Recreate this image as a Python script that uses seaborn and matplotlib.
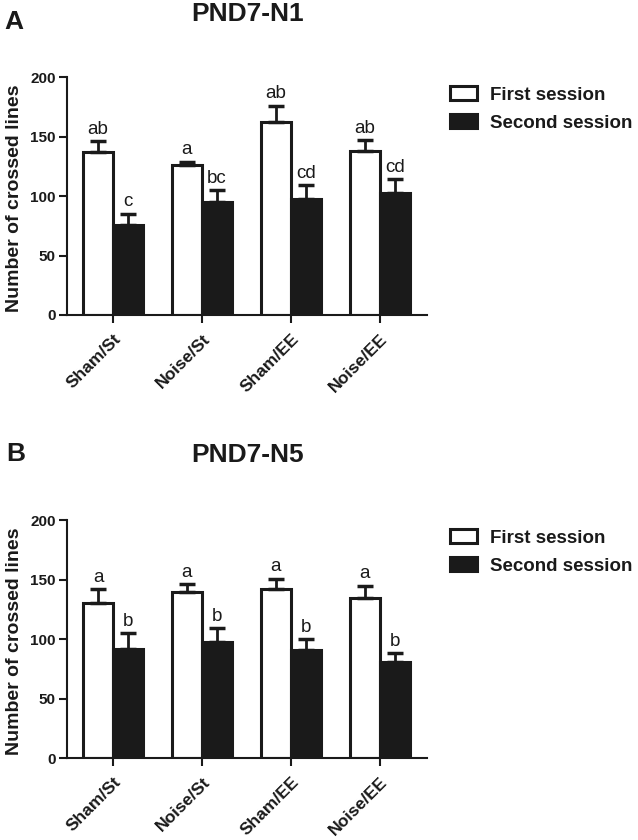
import matplotlib
matplotlib.use("Agg")
import matplotlib.pyplot as plt
import seaborn as sns
import pandas as pd

groups = ["Sham/St", "Noise/St", "Sham/EE", "Noise/EE"]
sessions = ["First session", "Second session"]

n1_first = [137, 126, 162, 138]
n1_first_err = [9, 3, 14, 9]
n1_second = [76, 95, 98, 103]
n1_second_err = [9, 10, 11, 11]
n1_first_letters = ["ab", "a", "ab", "ab"]
n1_second_letters = ["c", "bc", "cd", "cd"]

n5_first = [130, 140, 142, 135]
n5_first_err = [12, 6, 9, 10]
n5_second = [92, 98, 91, 81]
n5_second_err = [13, 11, 9, 7]
n5_first_letters = ["a", "a", "a", "a"]
n5_second_letters = ["b", "b", "b", "b"]

sns.set_theme(style="ticks")
plt.rcParams["font.family"] = ["Liberation Sans", "DejaVu Sans"]

INK = "#1a1a1a"

fig = plt.figure(figsize=(6.38, 8.4), dpi=100)
ax1 = fig.add_axes([0.105, 0.625, 0.564, 0.283])
ax2 = fig.add_axes([0.105, 0.0976, 0.564, 0.283])


def panel(ax, first, first_err, second, second_err, fl, sl, title, ytitle):
    df = pd.DataFrame({
        "group": groups * 2,
        "session": [sessions[0]] * 4 + [sessions[1]] * 4,
        "value": list(first) + list(second),
    })
    sns.barplot(data=df, x="group", y="value", hue="session", order=groups,
                hue_order=sessions, palette=["white", INK], edgecolor=INK,
                linewidth=2.2, width=0.68, errorbar=None, ax=ax, saturation=1)
    errs = [first_err, second_err]
    letters = [fl, sl]
    conts = list(ax.containers)[:2]
    for ci, cont in enumerate(conts):
        for bi, bar in enumerate(cont.patches):
            xc = bar.get_x() + bar.get_width() / 2
            h = bar.get_height()
            e = errs[ci][bi]
            ax.errorbar(xc, h, yerr=[[0], [e]], fmt="none", ecolor=INK,
                        elinewidth=2, capsize=6, capthick=2.5, zorder=1)
            ax.text(xc, h + e + 3, letters[ci][bi], ha="center", va="bottom",
                    fontsize=13.5, color=INK)
    ax.set_ylim(0, 200)
    ax.set_xlim(-0.52, 3.53)
    ax.set_yticks([0, 50, 100, 150, 200])
    ax.set_xlabel("")
    ax.set_ylabel("Number of crossed lines", fontsize=14, fontweight="bold",
                  color=INK)
    ax.yaxis.set_label_coords(-0.122, 0.49)
    for lab in ax.get_yticklabels():
        lab.set_fontweight("bold")
        lab.set_fontsize(11)
        lab.set_color(INK)
    ax.set_xticks(range(4))
    ax.set_xticklabels(groups, rotation=45, ha="right", va="top",
                       rotation_mode="anchor",
                       fontsize=12.5, fontweight="bold", color=INK)
    sns.despine(ax=ax)
    for s in ["left", "bottom"]:
        ax.spines[s].set_linewidth(1.5)
        ax.spines[s].set_color(INK)
    ax.tick_params(axis="both", width=1.5, length=6, color=INK, pad=2)
    ax.tick_params(axis="x", pad=6)
    ax.legend(loc="upper left", bbox_to_anchor=(1.064, 0.963), frameon=False,
              prop={"weight": "bold", "size": 13.5}, handlelength=1.45,
              handleheight=0.8, handletextpad=0.7, labelspacing=0.55,
              borderpad=0, borderaxespad=0)
    for t in ax.get_legend().get_texts():
        t.set_color(INK)
    ax.text(0.503, ytitle, title, transform=ax.transAxes,
            ha="center", va="center", fontsize=19, fontweight="bold", color=INK)


panel(ax1, n1_first, n1_first_err, n1_second, n1_second_err,
      n1_first_letters, n1_second_letters, "PND7-N1", 1.267)
panel(ax2, n5_first, n5_first_err, n5_second, n5_second_err,
      n5_first_letters, n5_second_letters, "PND7-N5", 1.275)

fig.text(0.022, 0.974, "A", fontsize=19, fontweight="bold", color=INK,
         ha="center", va="center")
fig.text(0.024, 0.459, "B", fontsize=19, fontweight="bold", color=INK,
         ha="center", va="center")

fig.savefig("out.png", dpi=100, facecolor="white")
